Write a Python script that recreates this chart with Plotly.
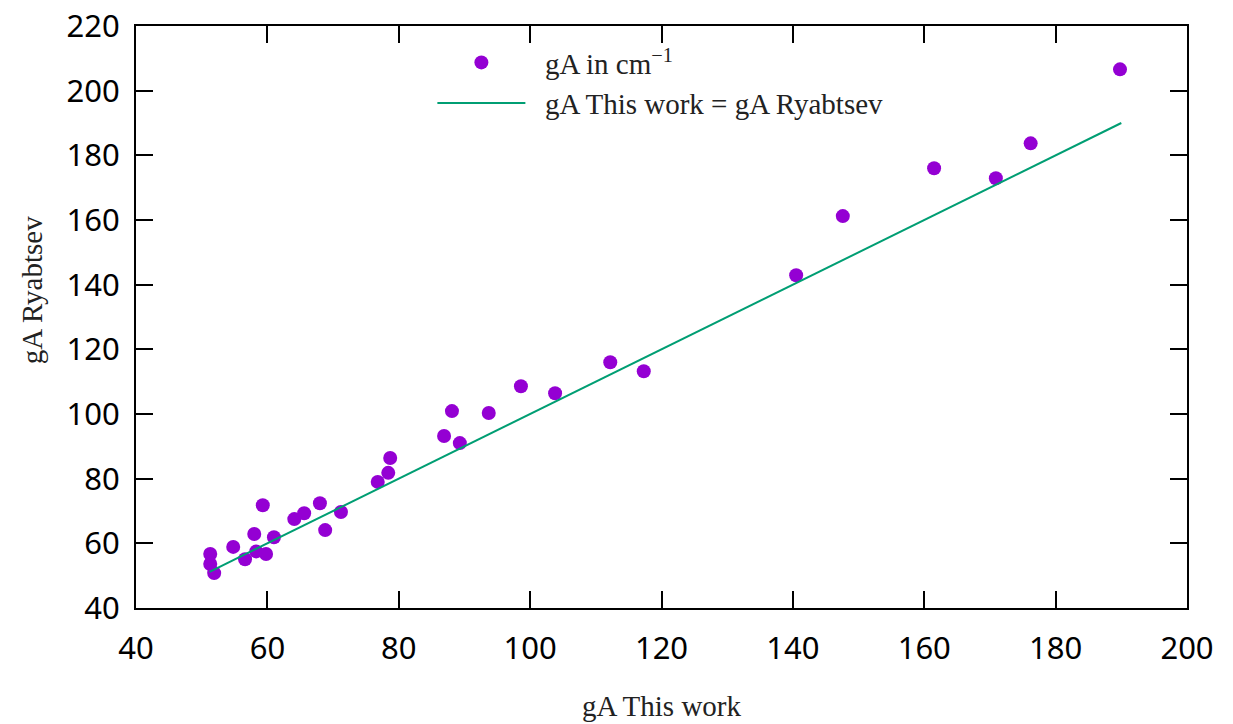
import plotly.graph_objects as go

# gA values: this work (x) versus Ryabtsev (y)
ga_this_work = [51.3, 51.3, 51.9, 54.8, 56.6, 58.0, 58.3, 59.3, 59.8, 61.0,
                64.1, 65.6, 68.0, 68.8, 71.2, 76.8, 78.4, 78.7, 86.9, 88.1,
                89.3, 93.7, 98.6, 103.8, 112.2, 117.3, 140.5, 147.6, 161.5,
                170.9, 176.2, 189.8]
ga_ryabtsev = [56.7, 53.6, 50.8, 58.9, 55.1, 62.9, 57.5, 71.8, 56.7, 61.9,
               67.5, 69.3, 72.4, 64.1, 69.7, 79.0, 81.8, 86.4, 93.2, 100.9,
               91.0, 100.3, 108.6, 106.4, 116.0, 113.2, 142.9, 161.2, 176.0,
               172.9, 183.7, 206.6]

# identity line over the span of the data
line_x = [51.2, 190.0]
line_y = list(line_x)

x_ticks = [40, 60, 80, 100, 120, 140, 160, 180, 200]
y_ticks = [40, 60, 80, 100, 120, 140, 160, 180, 200, 220]

serif = "Liberation Serif"
sans = "Noto Sans"
pad = "\u2002"  # small gap between legend symbol and label
title_font = dict(family=serif, size=29, color="#222222")

fig = go.Figure()
fig.add_trace(go.Scatter(
    x=ga_this_work, y=ga_ryabtsev, mode="markers",
    name=pad + "gA in cm<sup>\u22121</sup>",
    marker=dict(color="#9400D3", size=14, line=dict(width=0)),
))
fig.add_trace(go.Scatter(
    x=line_x, y=line_y, mode="lines",
    name=pad + "gA This work = gA Ryabtsev",
    line=dict(color="#009E73", width=2),
))

axis_common = dict(
    showgrid=False, zeroline=False, automargin=False,
    showline=True, linecolor="black", linewidth=2, mirror="allticks",
    ticks="inside", ticklen=17, tickwidth=2, tickcolor="black",
    tickfont=dict(family=sans, size=31, color="black"),
)

fig.update_layout(
    width=1233, height=724,
    margin=dict(l=136, r=46, t=26, b=116),
    paper_bgcolor="white", plot_bgcolor="white",
    showlegend=True,
    legend=dict(
        x=0.282, y=0.981, xanchor="left", yanchor="top",
        bgcolor="rgba(0,0,0,0)", borderwidth=0,
        font=dict(family=serif, size=29, color="#222222"),
        itemwidth=88, tracegroupgap=0,
    ),
    xaxis=dict(axis_common, range=[40, 200], tickvals=x_ticks,
               ticklabelstandoff=12,
               title=dict(text="gA This work", standoff=28, font=title_font)),
    yaxis=dict(axis_common, range=[40, 220], tickvals=y_ticks,
               ticklabelstandoff=8),
    annotations=[dict(
        text="gA Ryabtsev", textangle=-90, showarrow=False,
        xref="paper", yref="paper", x=-0.099, y=0.546,
        xanchor="center", yanchor="middle", font=title_font,
    )],
)

fig.write_html("out.html")
